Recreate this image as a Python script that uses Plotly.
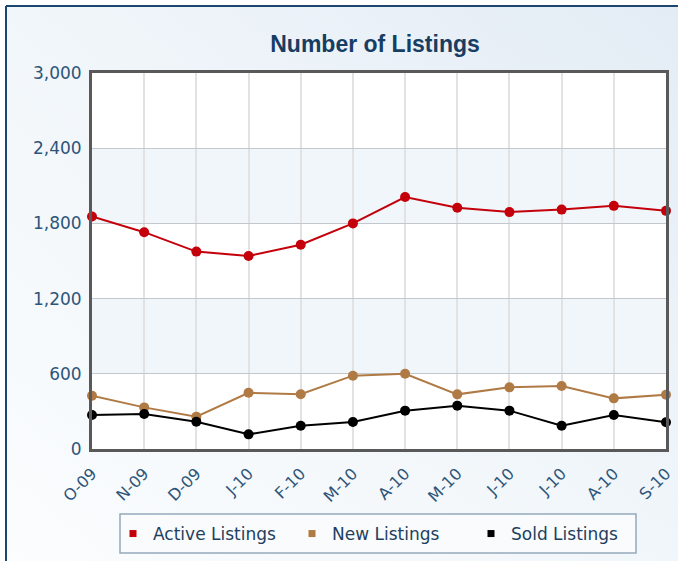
import base64
import plotly.graph_objects as go

# Monthly listing counts, Oct 2009 - Sep 2010
months = ["O-09", "N-09", "D-09", "J-10", "F-10", "M-10",
          "A-10", "M-10", "J-10", "J-10", "A-10", "S-10"]
active_listings = [1855, 1730, 1575, 1540, 1630, 1800, 2010, 1925, 1890, 1910, 1940, 1900]
new_listings = [425, 332, 258, 449, 437, 585, 600, 436, 492, 503, 404, 433]
sold_listings = [271, 279, 218, 117, 185, 216, 306, 346, 306, 186, 271, 214]
y_ticks = [0, 600, 1200, 1800, 2400, 3000]

W, H = 678, 561
ML, MR, MT, MB = 92, 12, 73, 112
PW, PH = W - ML - MR, H - MT - MB


def px_x(p):
    return (p - ML) / PW


def px_y(p):
    return (H - MB - p) / PH


xs = list(range(len(months)))

fig = go.Figure()
series = [
    ("Active Listings", active_listings, "#c4000b"),
    ("New Listings", new_listings, "#b07a45"),
    ("Sold Listings", sold_listings, "#000000"),
]
for name, vals, col in series:
    fig.add_trace(go.Scatter(
        x=xs, y=vals, name=name, mode="lines+markers",
        line=dict(color=col, width=2),
        marker=dict(color=col, size=10, symbol="circle"),
        cliponaxis=False, showlegend=False,
    ))
# Legend entries shown as small squares
for name, vals, col in series:
    fig.add_trace(go.Scatter(
        x=[None], y=[None], name=name, mode="markers",
        marker=dict(color=col, size=7, symbol="square"),
        showlegend=True,
    ))

# Light background card with a soft diagonal gradient
svg = (
    '<svg xmlns="http://www.w3.org/2000/svg" width="100" height="100" preserveAspectRatio="none">'
    '<defs><linearGradient id="g" x1="0" y1="1" x2="1" y2="0">'
    '<stop offset="0" stop-color="#fbfdfe"/><stop offset="0.5" stop-color="#f1f6fa"/>'
    '<stop offset="1" stop-color="#e3ecf5"/></linearGradient></defs>'
    '<rect width="100" height="100" fill="url(#g)"/></svg>'
)
src = "data:image/svg+xml;base64," + base64.b64encode(svg.encode()).decode()
card_x0, card_x1 = px_x(6), px_x(W)
card_y0, card_y1 = px_y(H), px_y(6)
fig.add_layout_image(dict(
    source=src, xref="paper", yref="paper",
    x=card_x0, y=card_y1, sizex=card_x1 - card_x0, sizey=card_y1 - card_y0,
    xanchor="left", yanchor="top", sizing="stretch", layer="below",
))

shapes = []
# White plot area with alternating horizontal bands
shapes.append(dict(type="rect", xref="paper", yref="paper", x0=0, x1=1, y0=0, y1=1,
                   fillcolor="white", line=dict(width=0), layer="below"))
for lo, hi in [(600, 1200), (1800, 2400)]:
    shapes.append(dict(type="rect", xref="paper", yref="y", x0=0, x1=1, y0=lo, y1=hi,
                       fillcolor="#f1f6fa", line=dict(width=0), layer="below"))
# Card border on the top and left edges
shapes.append(dict(type="line", xref="paper", yref="paper", x0=card_x0, x1=card_x1,
                   y0=card_y1, y1=card_y1, line=dict(color="#1b4670", width=2)))
shapes.append(dict(type="line", xref="paper", yref="paper", x0=card_x0, x1=card_x0,
                   y0=card_y0, y1=card_y1, line=dict(color="#1b4670", width=2)))
# Legend frame
shapes.append(dict(type="rect", xref="paper", yref="paper",
                   x0=px_x(120), x1=px_x(636), y0=px_y(553), y1=px_y(514),
                   fillcolor="#f9fbfd", line=dict(color="#94a9bc", width=1.5), layer="below"))

fig.update_layout(
    width=W, height=H,
    margin=dict(l=ML, r=MR, t=MT, b=MB, autoexpand=False),
    paper_bgcolor="white",
    plot_bgcolor="white",
    shapes=shapes,
    title=dict(text="<b>Number of Listings</b>", xref="paper", x=px_x(375), xanchor="center",
               yref="container", y=1 - 44 / H, yanchor="middle",
               font=dict(family="Liberation Sans, Arial", size=23, color="#173d63")),
    showlegend=True,
    legend=dict(orientation="h", x=px_x(113), xanchor="left", y=px_y(534), yanchor="middle",
                bgcolor="rgba(0,0,0,0)", borderwidth=0,
                font=dict(family="DejaVu Sans", size=17, color="#1f3f60"),
                itemsizing="trace", itemwidth=30, entrywidthmode="pixels", entrywidth=134),
    xaxis=dict(
        range=[0, len(months) - 1], tickvals=xs, ticktext=months, tickangle=-45,
        showgrid=True, gridcolor="#e2e2e2", gridwidth=1.5,
        showline=True, linecolor="#595959", linewidth=3, mirror=True,
        ticks="", zeroline=False, automargin=False, ticklabelstandoff=6,
        tickfont=dict(family="DejaVu Sans", size=16, color="#2e5579"),
    ),
    yaxis=dict(
        range=[0, 3000], tickvals=y_ticks, tickformat=",",
        showgrid=True, gridcolor="#c4c8cc", gridwidth=1,
        showline=True, linecolor="#595959", linewidth=3, mirror=True,
        ticks="", zeroline=False, ticklabelstandoff=4, automargin=False,
        tickfont=dict(family="DejaVu Sans", size=17, color="#2e5579"),
    ),
)

fig.write_html("out.html")
